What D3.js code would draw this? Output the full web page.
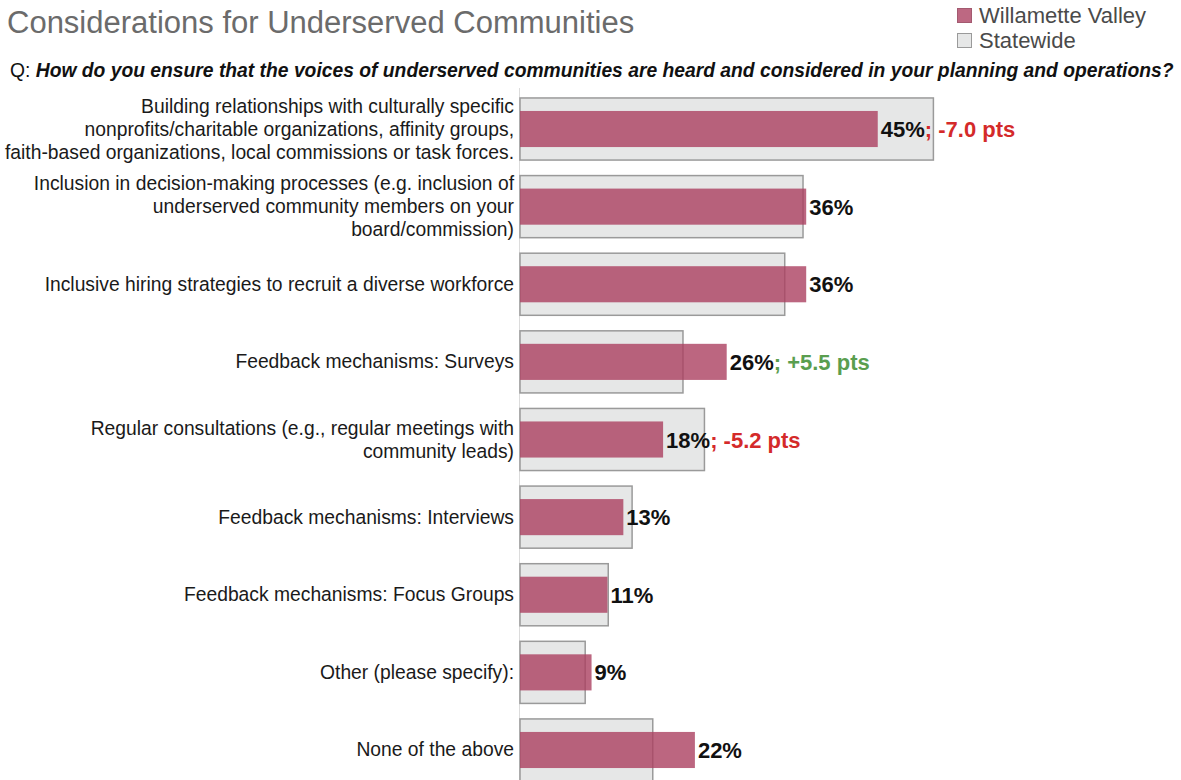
<!DOCTYPE html>
<html>
<head>
<meta charset="utf-8">
<script src="https://cdn.jsdelivr.net/npm/d3@7/dist/d3.min.js"></script>
<style>
  html, body { margin: 0; padding: 0; background: #fff; }
  svg { display: block; font-family: "Liberation Sans", Arial, Helvetica, sans-serif; }
</style>
</head>
<body>
<svg id="chart" width="1181" height="780"></svg>
<script>
// Response categories (line breaks mark wrapped label lines)
const categories = [
  "Building relationships with culturally specific\nnonprofits/charitable organizations, affinity groups,\nfaith-based organizations, local commissions or task forces.",
  "Inclusion in decision-making processes (e.g. inclusion of\nunderserved community members on your\nboard/commission)",
  "Inclusive hiring strategies to recruit a diverse workforce",
  "Feedback mechanisms: Surveys",
  "Regular consultations (e.g., regular meetings with\ncommunity leads)",
  "Feedback mechanisms: Interviews",
  "Feedback mechanisms: Focus Groups",
  "Other (please specify):",
  "None of the above"
];
// Willamette Valley share (%)
const valleyValues = [45, 36, 36, 26, 18, 13, 11, 9, 22];
// Statewide share (%)
const statewideValues = [52.0, 35.6, 33.3, 20.5, 23.2, 14.1, 11.1, 8.2, 16.7];
// Difference callouts (points vs statewide), null where none shown
const diffLabels = ["; -7.0 pts", null, null, "; +5.5 pts", "; -5.2 pts", null, null, null, null];

const seriesNames = ["Willamette Valley", "Statewide"];
const titleText = "Considerations for Underserved Communities";
const questionPrefix = "Q: ";
const questionText = "How do you ensure that the voices of underserved communities are heard and considered in your planning and operations?";

const valleyColor = "rgb(171,64,96)";
const valleyOpacity = 0.8;
const stateFill = "#e6e7e7";
const stateStroke = "#9a9a9a";

const svg = d3.select("#chart");

const rows = categories.map((c, i) => ({
  cat: c, v: valleyValues[i], s: statewideValues[i], diff: diffLabels[i]
}));

const x = d3.scaleLinear().domain([0, 100]).range([520, 520 + 795]);
const y = d3.scaleBand().domain(categories).range([90.2, 788.8]).padding(0);
const step = y.bandwidth();
const stateH = step * 0.8;
const valleyH = step * 0.465;

// Title
svg.append("text")
  .attr("x", 7).attr("y", 33)
  .attr("font-size", 31)
  .attr("fill", "#6b6b6b")
  .text(titleText);

// Question line
const q = svg.append("text")
  .attr("x", 10).attr("y", 77)
  .attr("font-size", 19.3)
  .attr("fill", "#111");
q.append("tspan").text(questionPrefix);
q.append("tspan").attr("font-weight", "bold").attr("font-style", "italic").text(questionText);

// Legend
const legend = svg.append("g").attr("transform", "translate(957,8)");
seriesNames.forEach((name, i) => {
  const g = legend.append("g").attr("transform", `translate(0,${i * 25})`);
  g.append("rect")
    .attr("x", 0.5).attr("y", 0.5).attr("width", 14).attr("height", 14)
    .attr("fill", i === 0 ? "#bd6882" : stateFill)
    .attr("stroke", i === 0 ? "#a35a70" : stateStroke);
  g.append("text")
    .attr("x", 22).attr("y", 15)
    .attr("font-size", 22)
    .attr("fill", "#4a4a4a")
    .text(name);
});

// Baseline
svg.append("line")
  .attr("x1", x(0) - 0.5).attr("x2", x(0) - 0.5)
  .attr("y1", 88).attr("y2", 780)
  .attr("stroke", "#dcdcdc").attr("stroke-width", 1);

// Statewide bars (background)
svg.append("g").selectAll("rect")
  .data(rows).join("rect")
  .attr("x", x(0))
  .attr("y", d => y(d.cat) + (step - stateH) / 2)
  .attr("width", d => x(d.s) - x(0))
  .attr("height", stateH)
  .attr("fill", stateFill)
  .attr("stroke", stateStroke)
  .attr("stroke-width", 1.5);

// Willamette Valley bars (foreground)
svg.append("g").selectAll("rect")
  .data(rows).join("rect")
  .attr("x", x(0))
  .attr("y", d => y(d.cat) + (step - valleyH) / 2)
  .attr("width", d => x(d.v) - x(0))
  .attr("height", valleyH)
  .attr("fill", valleyColor)
  .attr("fill-opacity", valleyOpacity);

// Category labels
const labels = svg.append("g").selectAll("text")
  .data(rows).join("text")
  .attr("x", x(0) - 6)
  .attr("y", d => y(d.cat) + step / 2)
  .attr("text-anchor", "end")
  .attr("font-size", 19.3)
  .attr("fill", "#1a1a1a");
labels.each(function(d) {
  const lines = d.cat.split("\n");
  const lh = 23;
  const first = -(lines.length - 1) / 2 * lh + 6.5;
  d3.select(this).selectAll("tspan")
    .data(lines).join("tspan")
    .attr("x", x(0) - 6)
    .attr("dy", (l, i) => i === 0 ? first : lh)
    .text(l => l);
});

// Value labels with optional difference callouts
const vals = svg.append("g").selectAll("text")
  .data(rows).join("text")
  .attr("x", d => x(d.v) + 3)
  .attr("y", d => y(d.cat) + step / 2 + 8)
  .attr("font-size", 22)
  .attr("font-weight", "bold")
  .attr("fill", "#111");
vals.append("tspan").text(d => Math.round(d.v) + "%");
vals.filter(d => d.diff)
  .append("tspan")
  .attr("fill", d => d.diff.includes("+") ? "#5a9e4f" : "#d42a2a")
  .text(d => d.diff);
</script>
</body>
</html>
